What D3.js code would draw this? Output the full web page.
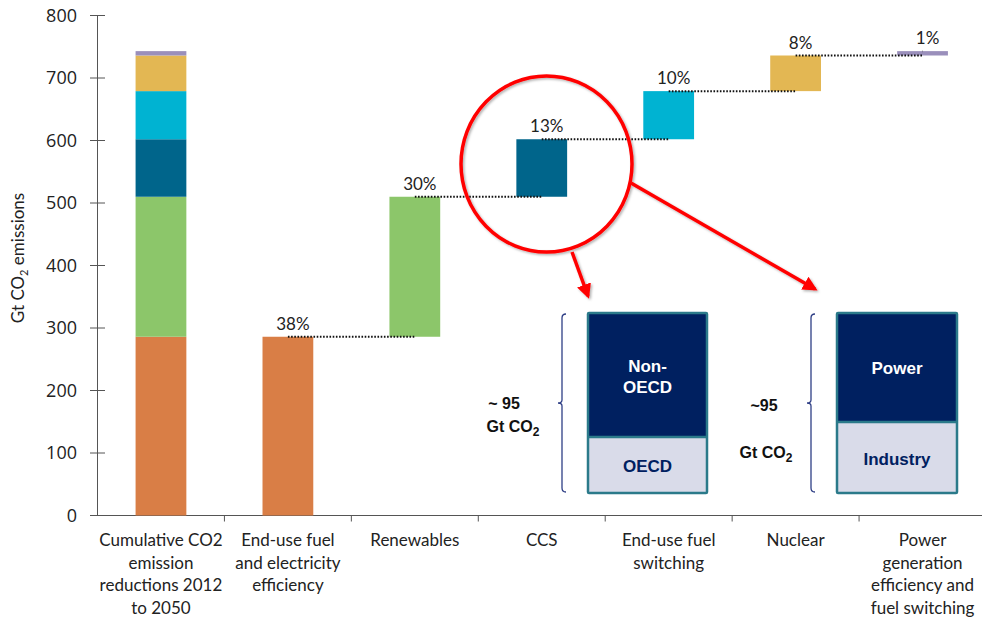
<!DOCTYPE html>
<html>
<head>
<meta charset="utf-8">
<script src="https://cdn.jsdelivr.net/npm/d3@7"></script>
<style>
  body { margin: 0; background: #fff; }
  svg text { font-family: Lato, "Open Sans", sans-serif; }
</style>
</head>
<body>
<script>
// categories along the x axis (line breaks as in the original)
const categories = [
  ["Cumulative CO2", "emission", "reductions 2012", "to 2050"],
  ["End-use fuel", "and electricity", "efficiency"],
  ["Renewables"],
  ["CCS"],
  ["End-use fuel", "switching"],
  ["Nuclear"],
  ["Power", "generation", "efficiency and", "fuel switching"]
]
const catKeys = categories.map(d => d.join(" "))

// contribution of each measure, Gt CO2
const steps = catKeys.slice(1)
const stepValues = [286, 224, 92, 77, 57, 7]
const stepShares = ["38%", "30%", "13%", "10%", "8%", "1%"]
const stepColors = ["#d97e46", "#8cc66a", "#00658b", "#00b3d2", "#e3b753", "#9a8fbb"]

const yTicks = [0, 100, 200, 300, 400, 500, 600, 700, 800]

const W = 982, H = 618
const svg = d3.select("body").append("svg").attr("width", W).attr("height", H)

const x = d3.scaleBand().domain(catKeys).range([97.5, 986]).paddingInner(0.6).paddingOuter(0.3)
const y = d3.scaleLinear().domain([0, 800]).range([515.5, 15.5])

// cumulative bases
let acc = 0
const bars = steps.map((s, i) => {
  const b = { cat: s, y0: acc, y1: acc + stepValues[i], share: stepShares[i], color: stepColors[i] }
  acc += stepValues[i]
  return b
})

// y axis
const yAxis = svg.append("g")
yAxis.append("line").attr("x1", 97.5).attr("x2", 97.5).attr("y1", y(800)).attr("y2", y(0))
  .attr("stroke", "#555").attr("stroke-width", 1)
yAxis.selectAll("line.tk").data(yTicks).enter().append("line").attr("class", "tk")
  .attr("x1", 90).attr("x2", 105).attr("y1", d => y(d)).attr("y2", d => y(d))
  .attr("stroke", "#555").attr("stroke-width", 1)
yAxis.selectAll("text").data(yTicks).enter().append("text")
  .attr("x", 77).attr("y", d => y(d)).attr("dy", "0.36em")
  .attr("text-anchor", "end").attr("font-size", 18).attr("fill", "#222")
  .style("font-family", "'Open Sans', sans-serif")
  .text(d => d)

// y label
const yl = svg.append("text").attr("transform", "translate(24,258) rotate(-90)")
  .attr("text-anchor", "middle").attr("font-size", 17).attr("fill", "#222")
yl.append("tspan").text("Gt CO")
yl.append("tspan").text("2").attr("font-size", 11).attr("dy", 4)
yl.append("tspan").text(" emissions").attr("dy", -4)

// x axis
const step = x.step()
svg.append("line").attr("x1", 97.5).attr("x2", 986).attr("y1", y(0)).attr("y2", y(0))
  .attr("stroke", "#555").attr("stroke-width", 1)
const bounds = catKeys.slice(0, -1).map(c => x(c) + x.bandwidth() + (step - x.bandwidth()) / 2)
svg.selectAll("line.xt").data(bounds).enter().append("line").attr("class", "xt")
  .attr("x1", d => d).attr("x2", d => d).attr("y1", y(0)).attr("y2", y(0) + 6)
  .attr("stroke", "#555")

const xl = svg.selectAll("text.cat").data(categories).enter().append("text").attr("class", "cat")
  .attr("x", (d, i) => x(catKeys[i]) + x.bandwidth() / 2)
  .attr("y", 546).attr("text-anchor", "middle").attr("font-size", 17).attr("fill", "#222")
xl.selectAll("tspan").data(d => d).enter().append("tspan")
  .attr("x", function () { return this.parentNode.getAttribute("x") })
  .attr("dy", (d, i) => i === 0 ? 0 : 22.5)
  .text(d => d)

// total stacked bar
svg.selectAll("rect.total").data(bars).enter().append("rect").attr("class", "total")
  .attr("x", x(catKeys[0])).attr("width", x.bandwidth())
  .attr("y", d => y(d.y1)).attr("height", d => y(d.y0) - y(d.y1))
  .attr("fill", d => d.color)

// waterfall bars
svg.selectAll("rect.step").data(bars).enter().append("rect").attr("class", "step")
  .attr("x", d => x(d.cat)).attr("width", x.bandwidth())
  .attr("y", d => y(d.y1)).attr("height", d => Math.max(1, y(d.y0) - y(d.y1)))
  .attr("fill", d => d.color)

// dotted connectors
svg.selectAll("line.conn").data(bars).enter().append("line").attr("class", "conn")
  .attr("x1", d => x(d.cat) + x.bandwidth() / 2)
  .attr("x2", (d, i) => i < bars.length - 1 ? x(bars[i + 1].cat) + x.bandwidth() / 2 : x(d.cat) + x.bandwidth() / 2)
  .attr("y1", d => y(d.y1)).attr("y2", d => y(d.y1))
  .attr("stroke", "#111").attr("stroke-width", 2).attr("stroke-dasharray", "1.6,1.6")

// share labels
svg.selectAll("text.share").data(bars).enter().append("text").attr("class", "share")
  .attr("x", d => x(d.cat) + x.bandwidth() / 2 + 5).attr("y", d => y(d.y1) - 7)
  .attr("text-anchor", "middle").attr("font-size", 17).attr("fill", "#222")
  .text(d => d.share)

// ---- annotation: red circle and arrows ----
const defs = svg.append("defs")
const f = defs.append("filter").attr("id", "sh").attr("x", "-20%").attr("y", "-20%").attr("width", "140%").attr("height", "140%")
f.append("feDropShadow").attr("dx", 1.5).attr("dy", 1.5).attr("stdDeviation", 1.2).attr("flood-color", "#000").attr("flood-opacity", 0.3)
defs.append("marker").attr("id", "ah").attr("viewBox", "0 0 10 10").attr("refX", 8).attr("refY", 5)
  .attr("markerWidth", 4.2).attr("markerHeight", 4.2).attr("orient", "auto")
  .append("path").attr("d", "M0,0 L10,5 L0,10 Z").attr("fill", "#f00")

const ann = svg.append("g").attr("filter", "url(#sh)")
ann.append("ellipse").attr("cx", 546.5).attr("cy", 164).attr("rx", 85.5).attr("ry", 88)
  .attr("fill", "none").attr("stroke", "#f00").attr("stroke-width", 3.5)
ann.append("line").attr("x1", 572).attr("y1", 252).attr("x2", 588).attr("y2", 296)
  .attr("stroke", "#f00").attr("stroke-width", 3.5).attr("marker-end", "url(#ah)")
ann.append("line").attr("x1", 631).attr("y1", 183).attr("x2", 815).attr("y2", 289)
  .attr("stroke", "#f00").attr("stroke-width", 3.5).attr("marker-end", "url(#ah)")

// ---- annotation: insets ----
const insets = [
  { x: 588, w: 119, top: 313, split: 437, bottom: 493, braceX: 562,
    topLabel: ["Non-", "OECD"], topBase: 372, botLabel: "OECD", botBase: 472,
    note: [{ t: "~ 95", x: 504, y: 409 }, { t: "Gt CO", sub: true, x: 513, y: 432 }] },
  { x: 837, w: 120, top: 313, split: 422, bottom: 493, braceX: 811,
    topLabel: ["Power"], topBase: 374, botLabel: "Industry", botBase: 465,
    note: [{ t: "~95", x: 764, y: 411 }, { t: "Gt CO", sub: true, x: 766, y: 458 }] }
]
const ig = svg.selectAll("g.inset").data(insets).enter().append("g").attr("class", "inset")
ig.append("rect").attr("x", d => d.x).attr("y", d => d.top).attr("width", d => d.w).attr("height", d => d.split - d.top)
  .attr("fill", "#002060")
ig.append("rect").attr("x", d => d.x).attr("y", d => d.split).attr("width", d => d.w).attr("height", d => d.bottom - d.split)
  .attr("fill", "#d9dbe9")
ig.append("line").attr("x1", d => d.x).attr("x2", d => d.x + d.w).attr("y1", d => d.split).attr("y2", d => d.split)
  .attr("stroke", "#2b7a8a").attr("stroke-width", 2.5)
ig.append("rect").attr("x", d => d.x).attr("y", d => d.top).attr("width", d => d.w).attr("height", d => d.bottom - d.top)
  .attr("fill", "none").attr("stroke", "#2b7a8a").attr("stroke-width", 2.5).attr("rx", 1)
ig.each(function (d) {
  const g = d3.select(this)
  const cx = d.x + d.w / 2
  d.topLabel.forEach((t, i) => {
    g.append("text").attr("x", cx).attr("y", d.topBase + i * 21).attr("text-anchor", "middle")
      .attr("font-size", 17).attr("font-weight", "bold").attr("fill", "#fff")
      .style("font-family", "'Liberation Sans', Arial, sans-serif").text(t)
  })
  g.append("text").attr("x", cx).attr("y", d.botBase).attr("text-anchor", "middle")
    .attr("font-size", 17).attr("font-weight", "bold").attr("fill", "#002060")
    .style("font-family", "'Liberation Sans', Arial, sans-serif").text(d.botLabel)
  // curly brace
  const bx = d.braceX, t0 = d.top + 1, t1 = d.bottom - 1, m = (d.top + d.bottom) / 2
  g.append("path")
    .attr("d", `M${bx + 4},${t0} Q${bx},${t0} ${bx},${t0 + 4} L${bx},${m - 3} Q${bx},${m} ${bx - 4},${m} Q${bx},${m} ${bx},${m + 3} L${bx},${t1 - 4} Q${bx},${t1} ${bx + 4},${t1}`)
    .attr("fill", "none").attr("stroke", "#2f3f86").attr("stroke-width", 1.3)
  d.note.forEach(n => {
    const tx = g.append("text").attr("x", n.x).attr("y", n.y).attr("text-anchor", "middle")
      .attr("font-size", 16).attr("font-weight", "bold").attr("fill", "#111")
      .style("font-family", "'Liberation Sans', Arial, sans-serif")
    tx.append("tspan").text(n.t)
    if (n.sub) tx.append("tspan").text("2").attr("font-size", 12).attr("dy", 4)
  })
})
</script>
</body>
</html>
